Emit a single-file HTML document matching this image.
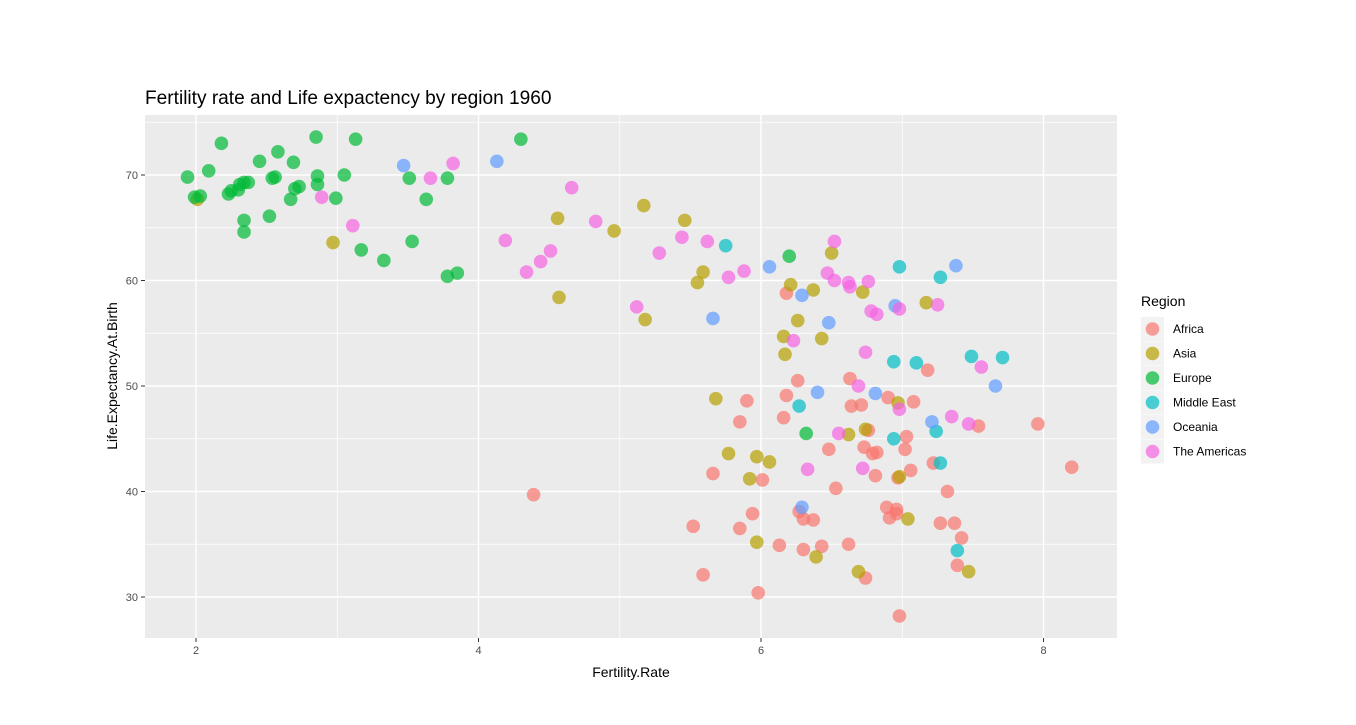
<!DOCTYPE html>
<html><head><meta charset="utf-8">
<style>
body{margin:0;background:#fff;width:1356px;height:720px;overflow:hidden;font-family:"Liberation Sans",Arial,sans-serif;}
svg text{font-family:"Liberation Sans",Arial,sans-serif;}
</style></head>
<body>
<svg id="chart" width="1356" height="720" xmlns="http://www.w3.org/2000/svg">
<text x="145" y="104" font-size="19.1" fill="#000">Fertility rate and Life expactency by region 1960</text>
<rect x="145" y="115" width="972" height="523" fill="#EBEBEB"/>
<g id="grid"></g>
<g id="points"></g>
<g id="axes"></g>
<text x="631" y="677" font-size="14" text-anchor="middle" fill="#000">Fertility.Rate</text>
<text transform="translate(117,376) rotate(-90)" font-size="14" text-anchor="middle" fill="#000">Life.Expectancy.At.Birth</text>
<g id="legend">
<text x="1141" y="306" font-size="14" fill="#000">Region</text>
</g>
</svg>
<script>
const regions = ["Africa","Asia","Europe","Middle East","Oceania","The Americas"];
const colors = ["#F8766D","#B79F00","#00BA38","#00BFC4","#619CFF","#F564E3"];
const xTicks = [2,4,6,8];
const yTicks = [30,40,50,60,70];

const africaFert = [6.18,6.26,6.63,6.90,7.08,7.18,5.90,6.18,6.64,6.71,5.85,6.16,7.54,7.96,6.76,7.03,6.48,6.73,6.79,6.82,7.02,7.22,8.20,5.66,6.01,6.81,6.97,7.06,6.53,7.32,6.27,6.30,6.37,6.89,6.96,6.96,6.91,7.27,7.37,5.94,5.52,5.85,7.42,6.13,6.30,6.43,6.62,7.39,6.74,5.59,5.98,6.98,4.39];
const africaLife = [58.8,50.5,50.7,48.9,48.5,51.5,48.6,49.1,48.1,48.2,46.6,47.0,46.2,46.4,45.8,45.2,44.0,44.2,43.6,43.7,44.0,42.7,42.3,41.7,41.1,41.5,41.3,42.0,40.3,40.0,38.1,37.4,37.3,38.5,38.3,37.9,37.5,37.0,37.0,37.9,36.7,36.5,35.6,34.9,34.5,34.8,35.0,33.0,31.8,32.1,30.4,28.2,39.7];
const asiaFert = [2.01,2.97,4.56,4.57,4.96,5.17,5.18,5.46,5.59,5.55,5.68,5.77,5.97,6.06,5.92,5.97,6.21,6.37,6.50,6.72,6.26,6.16,6.43,6.17,6.97,7.17,6.62,6.74,6.98,7.04,6.39,6.69,7.47];
const asiaLife = [67.7,63.6,65.9,58.4,64.7,67.1,56.3,65.7,60.8,59.8,48.8,43.6,43.3,42.8,41.2,35.2,59.6,59.1,62.6,58.9,56.2,54.7,54.5,53.0,48.4,57.9,45.4,45.9,41.4,37.4,33.8,32.4,32.4];
const europeFert = [1.94,1.99,2.03,2.09,2.18,2.23,2.25,2.30,2.31,2.34,2.37,2.34,2.34,2.45,2.52,2.54,2.56,2.58,2.67,2.69,2.70,2.73,2.85,2.86,2.86,2.99,3.05,3.13,3.17,3.33,3.51,3.53,3.63,3.78,3.78,3.85,4.30,6.20,6.32];
const europeLife = [69.8,67.9,68.0,70.4,73.0,68.2,68.5,68.6,69.1,69.3,69.3,65.7,64.6,71.3,66.1,69.7,69.8,72.2,67.7,71.2,68.7,68.9,73.6,69.9,69.1,67.8,70.0,73.4,62.9,61.9,69.7,63.7,67.7,69.7,60.4,60.7,73.4,62.3,45.5];
const meFert = [5.75,6.98,7.27,6.94,7.10,7.49,7.71,6.27,7.24,6.94,7.27,7.39];
const meLife = [63.3,61.3,60.3,52.3,52.2,52.8,52.7,48.1,45.7,45.0,42.7,34.4];
const oceFert = [3.47,4.13,5.66,6.06,7.38,6.29,6.95,6.48,6.40,6.81,7.66,7.21,6.29];
const oceLife = [70.9,71.3,56.4,61.3,61.4,58.6,57.6,56.0,49.4,49.3,50.0,46.6,38.5];
const amFert = [2.89,3.11,3.66,3.82,4.19,4.34,4.44,4.51,4.66,4.83,5.12,5.28,5.44,5.62,5.77,5.88,6.52,6.47,6.52,6.62,6.63,6.76,6.98,7.25,6.78,6.82,6.23,6.74,7.56,6.69,6.98,7.35,7.47,6.55,6.33,6.72];
const amLife = [67.9,65.2,69.7,71.1,63.8,60.8,61.8,62.8,68.8,65.6,57.5,62.6,64.1,63.7,60.3,60.9,63.7,60.7,60.0,59.8,59.4,59.9,57.3,57.7,57.1,56.8,54.3,53.2,51.8,50.0,47.8,47.1,46.4,45.5,42.1,42.2];

const fertSeries = [africaFert, asiaFert, europeFert, meFert, oceFert, amFert];
const lifeSeries = [africaLife, asiaLife, europeLife, meLife, oceLife, amLife];

const NS = "http://www.w3.org/2000/svg";
const PX0 = 145, PX1 = 1117, PY0 = 115, PY1 = 638;
function xs(v){ return 196 + (v - 2) * 141.25; }
function ys(v){ return 175 - (v - 70) * 10.55; }
function mk(tag, attrs, parent){ const e = document.createElementNS(NS, tag); for (const k in attrs) e.setAttribute(k, attrs[k]); parent.appendChild(e); return e; }

const grid = document.getElementById('grid');
for (let v = 1; v <= 9; v += 1) {
  const x = xs(v); if (x < PX0 || x > PX1) continue;
  const major = xTicks.includes(v);
  const l = mk('line', {x1:x, x2:x, y1:PY0, y2:PY1, stroke:'#fff', 'stroke-width': major ? 1.4 : 0.7}, grid);
  
  
}
for (let v = 25; v <= 80; v += 5) {
  const y = ys(v); if (y < PY0 || y > PY1) continue;
  const major = yTicks.includes(v);
  const l = mk('line', {x1:PX0, x2:PX1, y1:y, y2:y, stroke:'#fff', 'stroke-width': major ? 1.4 : 0.7}, grid);
  
  
}

const axes = document.getElementById('axes');
xTicks.forEach(v => {
  const x = xs(v);
  const t = mk('line', {x1:x, x2:x, y1:PY1, y2:PY1+4, stroke:'#333', 'stroke-width':1}, axes);
  
  
  const tx = mk('text', {x:x, y:PY1+16, 'font-size':11, fill:'#4D4D4D', 'text-anchor':'middle'}, axes);
  tx.textContent = v;
  
  
});
yTicks.forEach(v => {
  const y = ys(v);
  const t = mk('line', {x1:PX0-4, x2:PX0, y1:y, y2:y, stroke:'#333', 'stroke-width':1}, axes);
  
  
  const tx = mk('text', {x:PX0-7, y:y+4, 'font-size':11, fill:'#4D4D4D', 'text-anchor':'end'}, axes);
  tx.textContent = v;
  
  
});

const pts = document.getElementById('points');
regions.forEach((r, i) => {
  const f = fertSeries[i], l = lifeSeries[i];
  for (let j = 0; j < f.length; j++) {
    const c = mk('circle', {cx:xs(f[j]), cy:ys(l[j]), r:6.8, fill:colors[i], 'fill-opacity':0.7}, pts);
    
    
  }
});

const leg = document.getElementById('legend');
regions.forEach((r, i) => {
  const y = 317 + i * 24.5;
  const bg = mk('rect', {x:1141, y:y, width:23, height:24, fill:'#F2F2F2'}, leg);
  
  
  const c = mk('circle', {cx:1152.5, cy:y+12, r:6.8, fill:colors[i], 'fill-opacity':0.7}, leg);
  
  
  const t = mk('text', {x:1173, y:y+16, 'font-size':12, fill:'#000'}, leg);
  t.textContent = r;
  
  
});
</script>
</body></html>
